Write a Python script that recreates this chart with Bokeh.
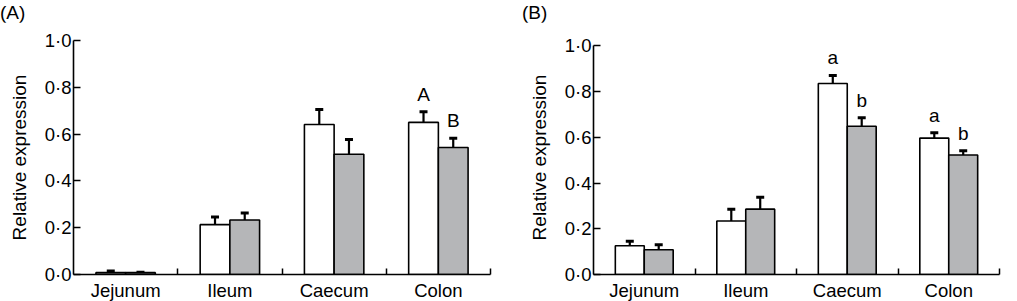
from bokeh.plotting import figure
from bokeh.models import Range1d, FixedTicker, ColumnDataSource, Whisker, TeeHead, Div
from bokeh.layouts import row, column
from bokeh.transform import dodge
from bokeh.core.properties import value
from bokeh.embed import file_html
from bokeh.resources import INLINE

categories = ["Jejunum", "Ileum", "Caecum", "Colon"]
y_ticks = [0.0, 0.2, 0.4, 0.6, 0.8, 1.0]
y_tick_labels = ["0·0", "0·2", "0·4", "0·6", "0·8", "1·0"]

a_white = [0.008, 0.213, 0.641, 0.650]
a_white_err = [0.007, 0.033, 0.064, 0.045]
a_grey = [0.008, 0.233, 0.514, 0.543]
a_grey_err = [0.002, 0.030, 0.063, 0.039]
a_white_letters = ["", "", "", "A"]
a_grey_letters = ["", "", "", "B"]

b_white = [0.126, 0.234, 0.836, 0.597]
b_white_err = [0.019, 0.052, 0.035, 0.023]
b_grey = [0.108, 0.286, 0.649, 0.523]
b_grey_err = [0.022, 0.052, 0.037, 0.019]
b_white_letters = ["", "", "a", "a"]
b_grey_letters = ["", "", "b", "b"]

FONT = "Liberation Sans"
GREY = "#b5b6b8"
BAR_W = 0.285
OFF = BAR_W / 2
HEAD_H = 22


def make_panel(label, white, werr, grey, gerr, wl, gl, width, height, border_left,
               y_end, label_left):
    n = len(categories)
    xc = [i + 0.5 for i in range(n)]
    src = ColumnDataSource(dict(
        xc=xc, white=white, grey=grey,
        wtop=[v + e for v, e in zip(white, werr)],
        gtop=[v + e for v, e in zip(grey, gerr)],
        wl=wl, gl=gl,
    ))
    p = figure(width=width, height=height - HEAD_H, output_backend="svg",
               toolbar_location=None,
               x_range=Range1d(0, n), y_range=Range1d(0, y_end),
               min_border_left=border_left, min_border_right=2,
               min_border_top=18, min_border_bottom=0)
    p.outline_line_color = None
    p.grid.visible = False
    p.background_fill_color = "white"

    p.vbar(x=dodge("xc", -OFF), top="white", width=BAR_W, bottom=0, source=src,
           fill_color="white", line_color="black", line_width=1.6)
    p.vbar(x=dodge("xc", OFF), top="grey", width=BAR_W, bottom=0, source=src,
           fill_color=GREY, line_color="black", line_width=1.6)

    for base, lo, hi in ((dodge("xc", -OFF), "white", "wtop"), (dodge("xc", OFF), "grey", "gtop")):
        w = Whisker(source=src, base=base, lower=lo, upper=hi, dimension="height",
                    line_color="black", line_width=2.2,
                    upper_head=TeeHead(size=8, line_width=3, line_color="black"),
                    lower_head=None)
        p.add_layout(w)

    p.text(x=dodge("xc", -OFF), y="wtop", text="wl", source=src, text_align="center",
           text_baseline="bottom", y_offset=-7, text_font=value(FONT),
           text_font_size="19px", text_color="black")
    p.text(x=dodge("xc", OFF), y="gtop", text="gl", source=src, text_align="center",
           text_baseline="bottom", y_offset=-7, text_font=value(FONT),
           text_font_size="19px", text_color="black")

    xa = p.xaxis[0]
    xa.ticker = FixedTicker(ticks=xc, minor_ticks=[1, 2, 3, 4])
    xa.major_label_overrides = {x: c for x, c in zip(xc, categories)}
    xa.major_tick_in = 0
    xa.major_tick_out = 0
    xa.minor_tick_in = 6
    xa.minor_tick_out = 0
    xa.minor_tick_line_width = 1.5
    xa.axis_line_width = 1.6
    xa.major_label_standoff = 5
    xa.major_label_text_font = FONT
    xa.major_label_text_font_size = "18.5px"
    xa.major_label_text_color = "black"

    ya = p.yaxis[0]
    ya.ticker = FixedTicker(ticks=y_ticks)
    ya.bounds = (0, 1.0)
    ya.major_label_overrides = {t: s for t, s in zip(y_ticks, y_tick_labels)}
    ya.major_tick_in = 7
    ya.major_tick_out = 0
    ya.minor_tick_line_color = None
    ya.major_tick_line_width = 1.5
    ya.axis_line_width = 1.6
    ya.major_label_standoff = 2
    ya.major_label_text_font = FONT
    ya.major_label_text_font_size = "18.5px"
    ya.major_label_text_color = "black"
    ya.axis_label = "Relative expression"
    ya.axis_label_text_font = FONT
    ya.axis_label_text_font_size = "19px"
    ya.axis_label_text_font_style = "normal"
    ya.axis_label_text_color = "black"
    ya.axis_label_standoff = 12

    head = Div(
        text=('<div style="position:relative; left:%dpx; top:3px; margin:0; padding:0; '
              'font-family:\'Liberation Sans\'; font-size:19px; color:black; '
              'line-height:19px; white-space:nowrap;">%s</div>' % (label_left, label)),
        width=width, height=HEAD_H, margin=0)
    return column(head, p, spacing=0)


pA = make_panel("(A)", a_white, a_white_err, a_grey, a_grey_err,
                a_white_letters, a_grey_letters, width=492, height=303,
                border_left=73, y_end=1.0, label_left=0)
pB = make_panel("(B)", b_white, b_white_err, b_grey, b_grey_err,
                b_white_letters, b_grey_letters, width=509, height=303,
                border_left=101, y_end=1.024, label_left=30)

layout = row(pA, pB, spacing=0)
open("out.html", "w").write(file_html(layout, INLINE))
